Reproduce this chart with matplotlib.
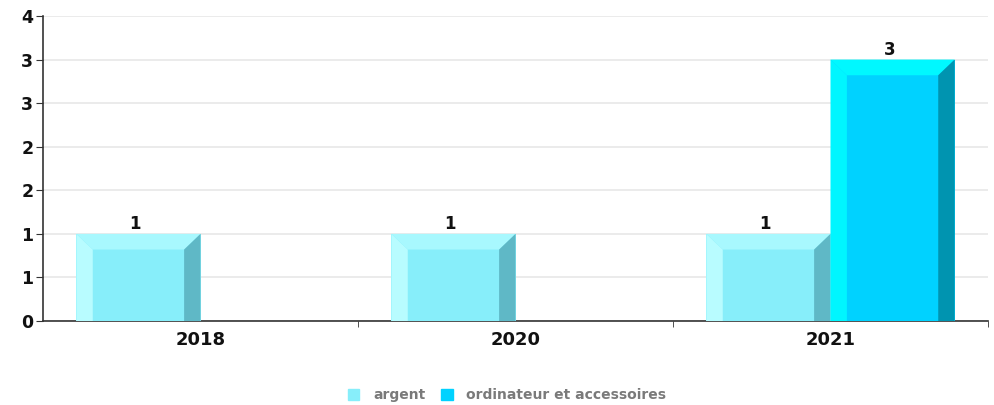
import matplotlib
matplotlib.use('Agg')
import matplotlib.pyplot as plt
from matplotlib.patches import Polygon
import numpy as np

plt.rcParams['font.family'] = ['DejaVu Sans']

years = ['2018', '2020', '2021']
series_names = ['argent', 'ordinateur et accessoires']
argent = [1, 1, 1]
ordinateur = [0, 0, 3]
values = [argent, ordinateur]

# main, left highlight, top highlight, right shade
palettes = [
    ('#87EEFA', '#B8FCFF', '#A8F8FE', '#5FB8C6'),
    ('#00D2FF', '#00F6FF', '#00F8FF', '#0094B0'),
]

fig = plt.figure(figsize=(9.94, 4.05), dpi=100)
ax = fig.add_axes([43 / 994, 84 / 405, 945 / 994, 305 / 405])

x = np.arange(len(years))
width = 0.394
bevel_x = 0.052
bevel_y = 0.18


def bevel_bar(ax, left, height, cols):
    main, light, top, dark = cols
    right = left + width
    ax.bar(left, height, width, align='edge', color=main, zorder=3)
    # left highlight
    ax.add_patch(Polygon([(left, 0), (left + bevel_x, 0), (left + bevel_x, height - bevel_y),
                          (left, height)], closed=True, color=light, lw=0, zorder=4))
    # top highlight
    ax.add_patch(Polygon([(left, height), (right, height), (right - bevel_x, height - bevel_y),
                          (left + bevel_x, height - bevel_y)], closed=True, color=top, lw=0, zorder=4))
    # right shade
    ax.add_patch(Polygon([(right - bevel_x, 0), (right, 0), (right, height),
                          (right - bevel_x, height - bevel_y)], closed=True, color=dark, lw=0, zorder=4))


for s, vals in enumerate(values):
    for i, v in enumerate(vals):
        if v <= 0:
            continue
        left = x[i] - width + s * width
        bevel_bar(ax, left, v, palettes[s])
        ax.text(left + width / 2 - 0.01, v + 0.005, str(v), ha='center', va='bottom',
                fontsize=12, fontweight='bold', color='#111111', zorder=5)

ax.set_xlim(-0.5, len(years) - 0.5)
ax.set_ylim(0, 3.5)
yt = np.arange(0, 3.51, 0.5)
ax.set_yticks(yt)
ax.set_yticklabels([str(int(np.floor(t + 0.5))) for t in yt])
ax.set_xticks(x)
ax.set_xticklabels(years)
ax.set_xticks(x[:] + 0.5, minor=True)
ax.tick_params(axis='x', which='major', length=0, pad=7)
ax.tick_params(axis='x', which='minor', length=4, color='#333333')
ax.tick_params(axis='y', length=5, color='#333333', pad=2)
for lab in ax.get_xticklabels():
    lab.set_fontweight('bold')
    lab.set_fontsize(13)
    lab.set_color('#111111')
for lab in ax.get_yticklabels():
    lab.set_fontweight('bold')
    lab.set_fontsize(12.5)
    lab.set_color('#111111')

ax.grid(axis='y', color='#e8e8e8', lw=1.2, zorder=0)
ax.set_axisbelow(True)
for sp in ['top', 'right']:
    ax.spines[sp].set_visible(False)
ax.spines['left'].set_color('#333333')
ax.spines['bottom'].set_color('#333333')
ax.spines['left'].set_linewidth(1.2)
ax.spines['bottom'].set_linewidth(1.2)

handles = [plt.Rectangle((0, 0), 1, 1, color=palettes[k][0]) for k in range(2)]
leg = fig.legend(handles, series_names, loc='center', bbox_to_anchor=(507 / 994, 1 - 395 / 405),
                 ncol=2, frameon=False, handlelength=0.85, handleheight=0.85, handletextpad=1.0,
                 columnspacing=1.1, prop={'size': 10, 'weight': 'bold'})
for t in leg.get_texts():
    t.set_color('#7a7a7a')

fig.savefig('out.png', dpi=100)
